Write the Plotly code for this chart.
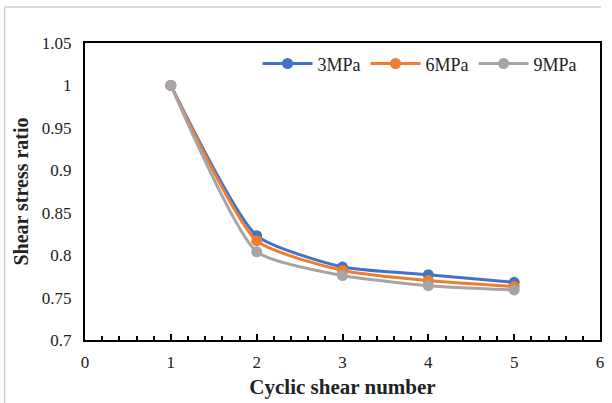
import plotly.graph_objects as go

cycles = [1, 2, 3, 4, 5]
s3 = [1.0, 0.823, 0.786, 0.777, 0.768]
s6 = [1.0, 0.817, 0.782, 0.770, 0.763]
s9 = [1.0, 0.804, 0.776, 0.764, 0.759]
names = ["3MPa", "6MPa", "9MPa"]
colors = ["#4472C4", "#ED7D31", "#A5A5A5"]
yticks = [0.7, 0.75, 0.8, 0.85, 0.9, 0.95, 1.0, 1.05]
ytext = ["0.7", "0.75", "0.8", "0.85", "0.9", "0.95", "1", "1.05"]

fig = go.Figure()
for name, ys, c in zip(names, [s3, s6, s9], colors):
    fig.add_trace(go.Scatter(
        x=cycles, y=ys, name=name, mode="lines+markers",
        line=dict(color=c, width=3, shape="spline", smoothing=0.55),
        marker=dict(color=c, size=11),
    ))

font = "Liberation Serif"
fig.update_layout(
    width=612, height=403,
    margin=dict(l=85, r=8, t=43, b=63),
    paper_bgcolor="white", plot_bgcolor="white",
    font=dict(family=font, size=17, color="#222"),
    showlegend=True,
    legend=dict(orientation="h", x=0.335, y=0.93, xanchor="left", yanchor="middle",
                bgcolor="rgba(0,0,0,0)", font=dict(size=18, family=font),
                itemwidth=50, traceorder="normal"),
    xaxis=dict(range=[0, 6], dtick=1, tick0=0, showgrid=False, zeroline=False,
               showline=True, linecolor="black", linewidth=2, mirror=True,
               ticks="inside", ticklen=6, tickwidth=1.5, tickcolor="black",
               minor=dict(dtick=0.2, ticks="inside", ticklen=4, tickwidth=1.5, tickcolor="black"),
               ticklabelstandoff=6,
               title=dict(text="<b>Cyclic shear number</b>", font=dict(size=21, family=font), standoff=8),
               tickfont=dict(size=17, family=font)),
    yaxis=dict(range=[0.7, 1.05], tickvals=yticks, ticktext=ytext, showgrid=False, zeroline=False,
               showline=True, linecolor="black", linewidth=2, mirror=True, ticks="",
               ticklabelstandoff=8,
               title=dict(text="<b>Shear stress ratio</b>", font=dict(size=20, family=font), standoff=8),
               tickfont=dict(size=17, family=font)),
    shapes=[
        dict(type="line", xref="paper", yref="paper", x0=-81/519, x1=520/519, y0=(340-7)/297, y1=(340-7)/297,
             line=dict(color="#CCCCCC", width=1.5)),
        dict(type="line", xref="paper", yref="paper", x0=-81/519, x1=-81/519, y0=(340-7)/297, y1=-63/297,
             line=dict(color="#CCCCCC", width=1.5)),
    ],
)

fig.write_html("out.html")
